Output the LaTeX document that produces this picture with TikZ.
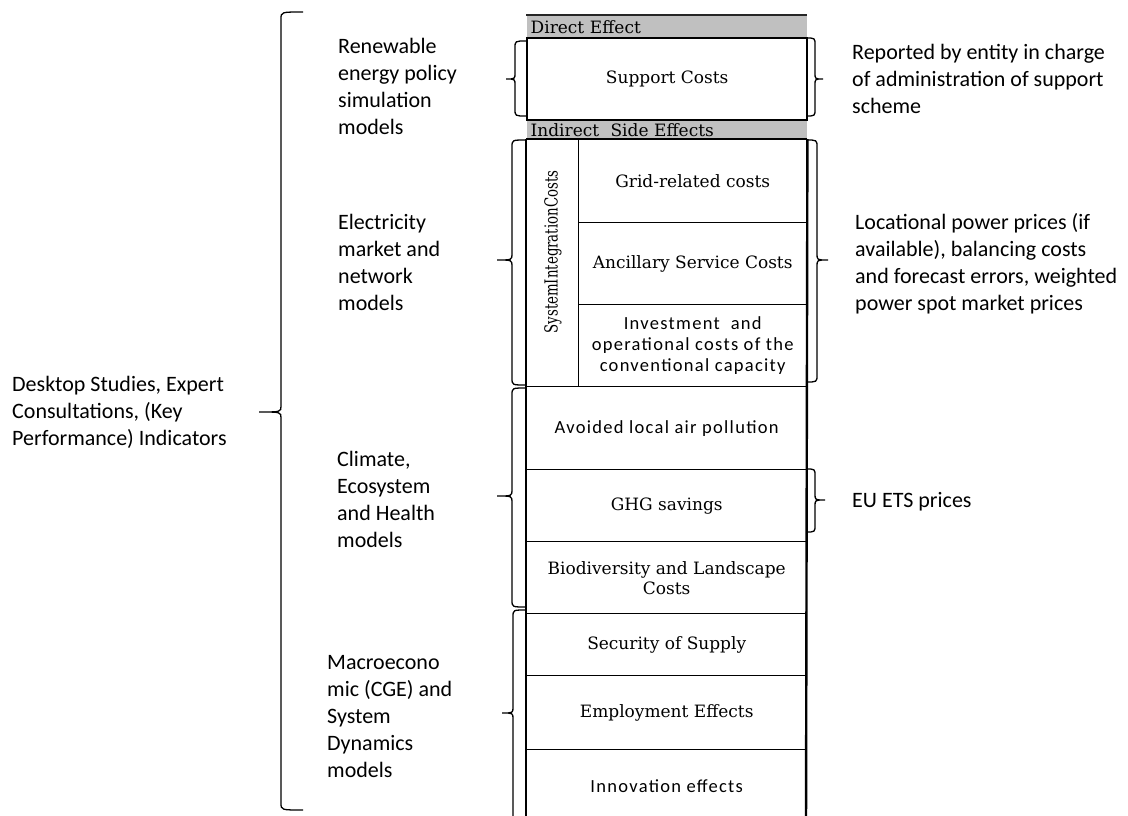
\documentclass[tikz,border=0pt]{standalone}
\usepackage{fontspec}
\usepackage{graphicx}
\newfontfamily\outerfont{Carlito}
\newfontfamily\cellsansfam[LetterSpace=7]{Carlito}
\newfontfamily\cellseriffam{DejaVu Serif}
\definecolor{hdrgray}{RGB}{192,192,192}
\newcommand{\fs}{\rule{0pt}{18pt}}
\newcommand{\bracX}[6]{% #1 line x, #2 top y, #3 bottom y, #4 tip x, #5 mid y, #6 end x
  \draw[bracestyle] (#6,#2) .. controls (#1,#2) .. (#1,#2+7) -- (#1,#5-6)
    .. controls (#1,#5) .. (#4,#5) .. controls (#1,#5) .. (#1,#5+6)
    -- (#1,#3-7) .. controls (#1,#3) .. (#6,#3);}
\begin{document}
\begin{tikzpicture}[x=1pt,y=-1pt,
  bracestyle/.style={line width=1.3pt, black},
  cell/.style={draw, line width=1.4pt, minimum width=280pt, inner sep=0pt,
    align=center, anchor=north west, font=\cellseriffam\fontsize{17}{20}\selectfont},
  sanscell/.style={font=\cellsansfam\fontsize{18.5}{21}\selectfont},
  hdr/.style={cell, draw=none, fill=hdrgray, text width=272pt, align=left},
  outer/.style={line width=2.4pt},
  outtxt/.style={anchor=north west, inner sep=0pt, align=left,
    font=\outerfont\fontsize{22}{27}\selectfont}]
\path[fill=white, use as bounding box] (0,0) rectangle (1128,816);

% headers
\node[hdr, minimum height=22pt] (direct) at (526,15) {Direct Effect};
\draw[line width=1.5pt, black!85] (direct.north west) -- (direct.north east);
\node[hdr, minimum height=20pt] (indirect) at (526,119) {Indirect\ \ Side Effects};
\node[cell, line width=2.4pt, minimum height=82pt] (support) at (526,37) {Support Costs};

% system integration block
\node[cell, minimum width=52pt, minimum height=247pt] (sic) at (526,139) {};
\node[rotate=90, inner sep=0pt, font=\cellseriffam\fontsize{18}{20}\selectfont] (sictext) at (553,252)
  {\resizebox{163pt}{\height}{SystemIntegrationCosts}};
\node[cell, minimum width=228pt, minimum height=83pt] (grid) at (578,139) {Grid-related costs};
\node[cell, minimum width=228pt, minimum height=82pt] (anc) at (578,222) {Ancillary Service Costs};
\node[cell, sanscell, minimum width=228pt, minimum height=82pt] (inv) at (578,304)
  {Investment\ \ and\\operational costs of the\\conventional capacity};

% lower cells
\node[cell, sanscell, minimum height=83pt] (avoid) at (526,386) {Avoided local air pollution};
\node[cell, minimum height=72pt] (ghg) at (526,469) {GHG savings};
\node[cell, minimum height=72pt] (bio) at (526,541) {Biodiversity and Landscape\\Costs};
\node[cell, minimum height=62pt] (sec) at (526,613) {Security of Supply};
\node[cell, minimum height=74pt] (emp) at (526,675) {Employment Effects};
\node[cell, sanscell, minimum height=72pt] (inn) at (526,749) {Innovation effects};

% thick outer column lines
\coordinate (colbotL) at (526,830);
\coordinate (colbotR) at (806,830);
\draw[outer] (sic.north west) -- (colbotL);
\draw[outer] (grid.north east) -- (colbotR);
\draw[line width=2pt] (sic.north west) -- (grid.north east);

% left-side texts
\node[outtxt] (renew) at (338,35) {\fs Renewable\\energy policy\\simulation\\models};
\node[outtxt] (elec) at (338,211) {\fs Electricity\\market and\\network\\models};
\node[outtxt] (desk) at (12,373) {\fs Desktop Studies, Expert\\Consultations, (Key\\Performance) Indicators};
\node[outtxt] (clim) at (337,448) {\fs Climate,\\Ecosystem\\and Health\\models};
\node[outtxt] (macro) at (327,651) {\fs Macroecono\\mic (CGE) and\\System\\Dynamics\\models};

% right-side texts
\node[outtxt] (report) at (852,41) {\fs Reported by entity in charge\\of administration of support\\scheme};
\node[outtxt] (locat) at (855,211) {\fs Locational power prices (if\\available), balancing costs\\and forecast errors, weighted\\power spot market prices};
\node[outtxt] (euets) at (852,489) {\fs EU ETS prices};

% braces
\bracX{281}{12}{810}{259}{412}{303}
\bracX{515}{41}{116}{506}{79}{526}
\bracX{512}{140}{385}{497}{260}{526}
\bracX{512}{388}{607}{497}{496}{526}
\bracX{513}{610}{840}{502}{713}{526}
\bracX{815}{38}{116}{823}{79}{806}
\bracX{817}{140}{382}{828}{260}{806}
\bracX{815}{469}{532}{825}{500}{806}
\end{tikzpicture}
\end{document}
